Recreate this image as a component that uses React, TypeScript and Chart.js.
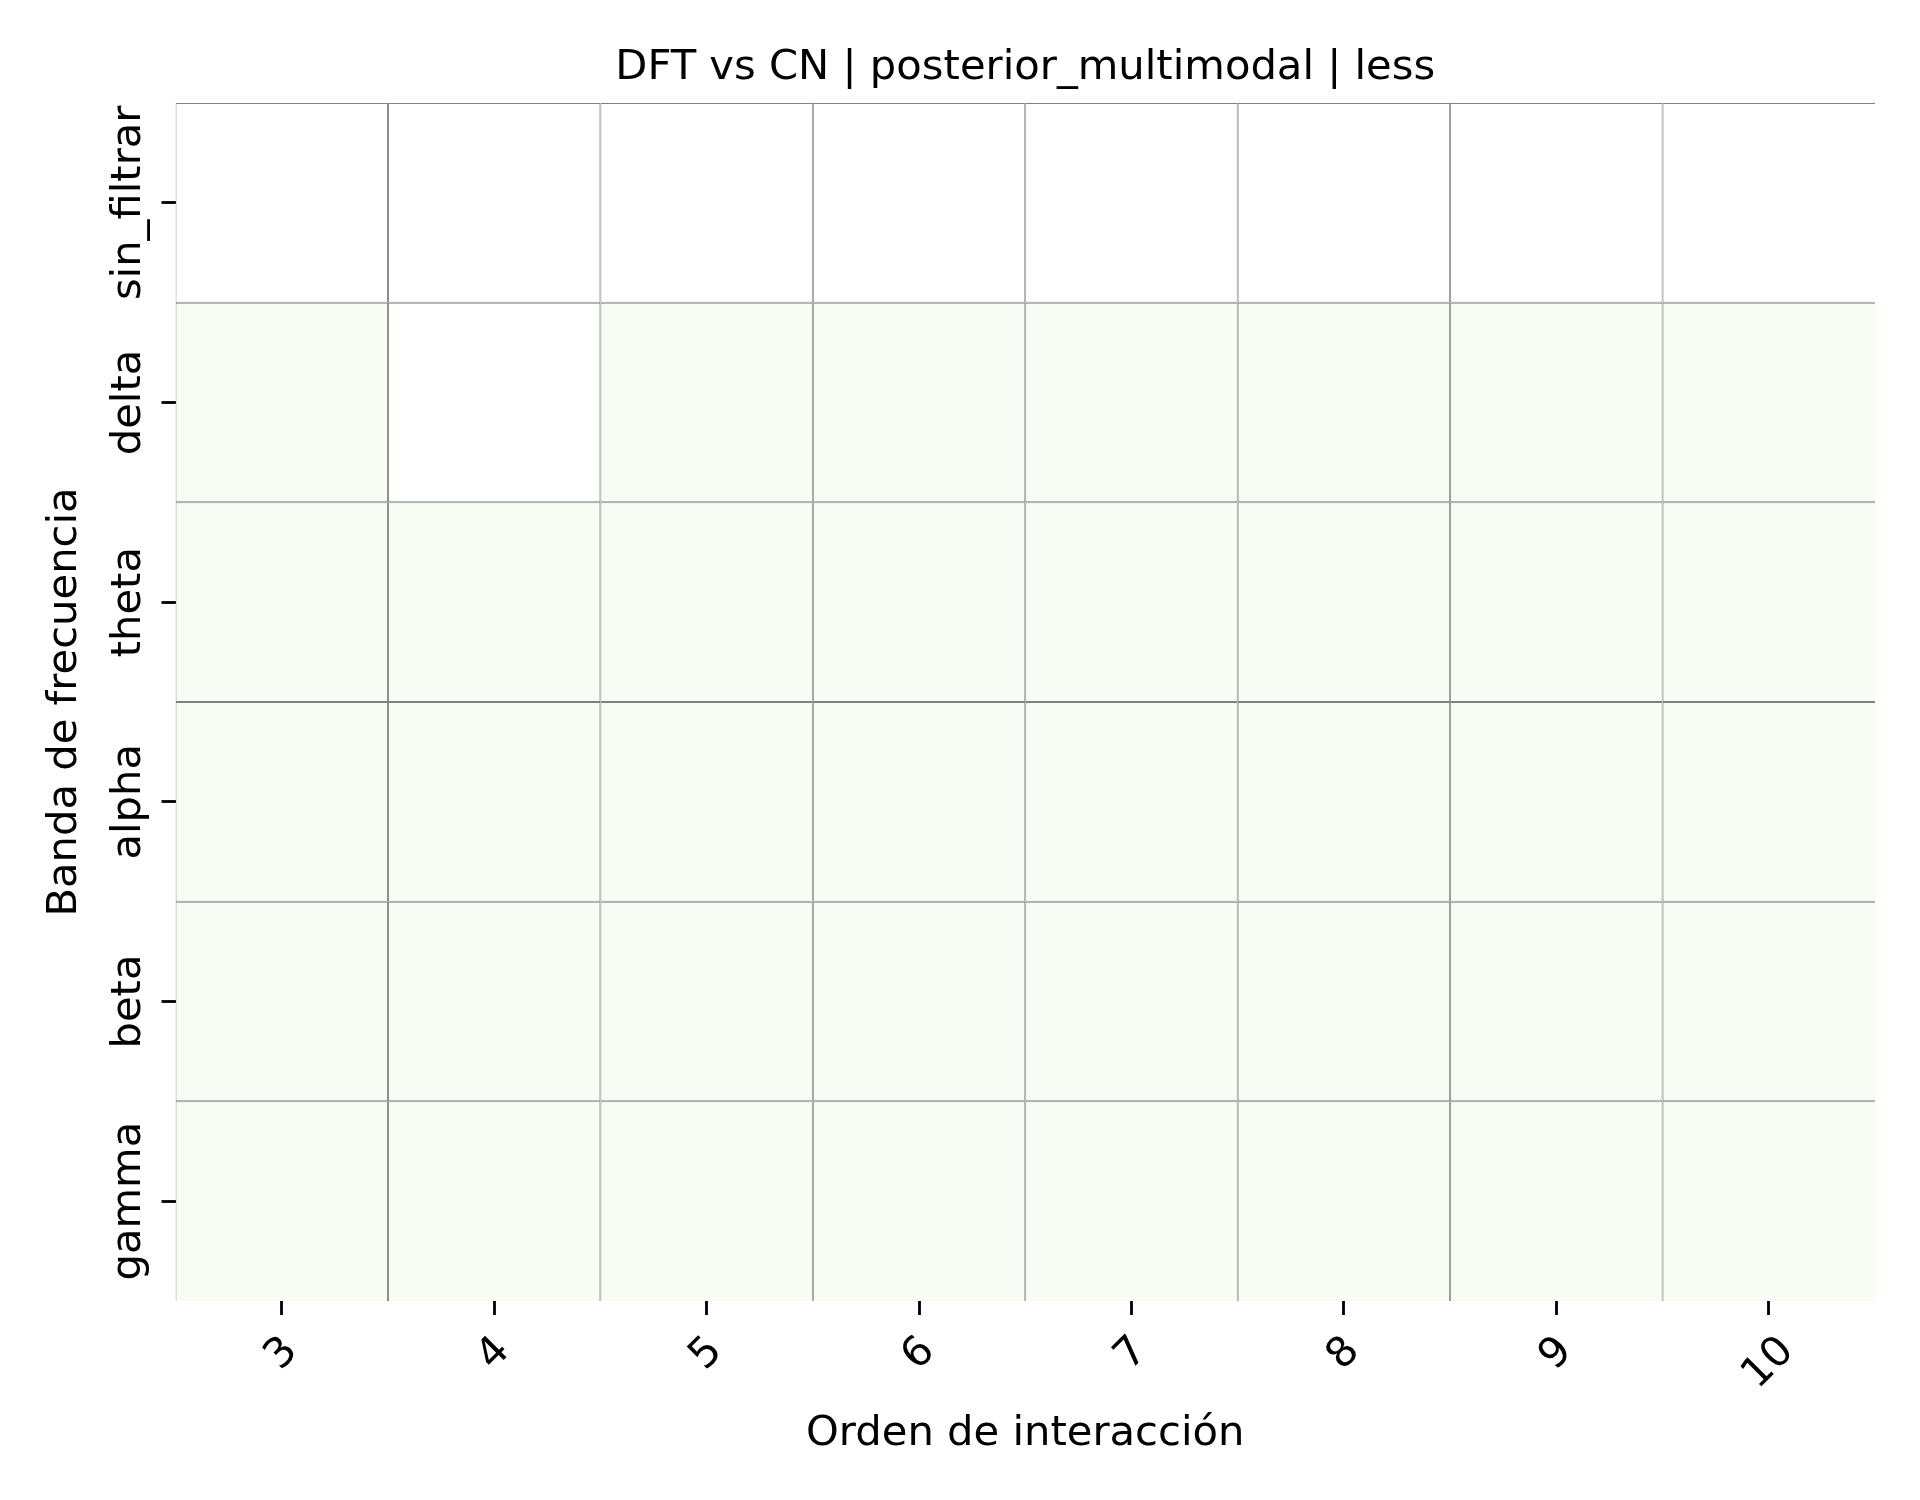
import { useEffect, useRef } from "react";
import { Chart, registerables } from "chart.js";

Chart.register(...registerables);

// Datos del heatmap
const ordenes = ["3", "4", "5", "6", "7", "8", "9", "10"];
const bandas = ["sin_filtrar", "delta", "theta", "alpha", "beta", "gamma"];

const sinFiltrar = [null, null, null, null, null, null, null, null];
const delta = [0, null, 0, 0, 0, 0, 0, 0];
const theta = [0, 0, 0, 0, 0, 0, 0, 0];
const alpha = [0, 0, 0, 0, 0, 0, 0, 0];
const beta = [0, 0, 0, 0, 0, 0, 0, 0];
const gamma = [0, 0, 0, 0, 0, 0, 0, 0];

const valores: (number | null)[][] = [sinFiltrar, delta, theta, alpha, beta, gamma];

const titulo = "DFT vs CN | posterior_multimodal | less";
const tituloX = "Orden de interacción";
const tituloY = "Banda de frecuencia";

const FS = 41.7;
const FUENTE = "DejaVu Sans";
const TICK = 14;

// Paleta Greens (matplotlib)
const greens = ["#f7fcf5", "#e5f5e0", "#c7e9c0", "#a1d99b", "#74c476", "#41ab5d", "#238b45", "#006d2c", "#00441b"];
const vmax = 1;

const colorCelda = (v: number | null) => {
  if (v === null) return "#ffffff";
  const t = Math.max(0, Math.min(1, v / vmax));
  return greens[Math.round(t * (greens.length - 1))];
};

// Etiquetas de ticks y título dibujados a mano (estilo matplotlib)
const textos = {
  id: "textos",
  afterDraw(chart: any) {
    const { ctx, chartArea, scales } = chart;
    const x = scales.x;
    const y = scales.y;
    ctx.save();
    ctx.fillStyle = "#000";
    ctx.font = `${FS}px "${FUENTE}"`;

    ctx.textAlign = "center";
    ctx.textBaseline = "alphabetic";
    ctx.fillText(titulo, (chartArea.left + chartArea.right) / 2, 79);

    // etiquetas del eje y, giradas 90°
    y.ticks.forEach((t: any, i: number) => {
      const py = y.getPixelForValue(t.value);
      ctx.save();
      ctx.translate(140, py);
      ctx.rotate(-Math.PI / 2);
      ctx.fillText(bandas[i], 0, 0);
      ctx.restore();
    });

    // etiquetas del eje x, giradas 45°
    ordenes.forEach((lab, i) => {
      const px = x.getPixelForTick(i);
      const w = ctx.measureText(lab).width;
      const h = 0.99 * FS;
      const cy = x.top + TICK + 15 + ((w + h) * Math.SQRT1_2) / 2;
      ctx.save();
      ctx.translate(px, cy);
      ctx.rotate(-Math.PI / 4);
      ctx.fillText(lab, 0, 0.265 * FS);
      ctx.restore();
    });
    ctx.restore();
  },
};

const Heatmap = () => {
  const chartRef = useRef<HTMLCanvasElement>(null);
  const chartInstance = useRef<Chart | null>(null);

  useEffect(() => {
    if (!chartRef.current) return;
    if (chartInstance.current) {
      chartInstance.current.destroy();
    }

    const ctx = chartRef.current.getContext("2d");
    if (!ctx) return;

    Chart.defaults.font.family = FUENTE;
    Chart.defaults.color = "#000";

    const datasets = bandas.map((banda, fila) => ({
      label: banda,
      data: ordenes.map(() => [fila - 0.5, fila + 0.5]),
      backgroundColor: valores[fila].map(colorCelda),
      borderColor: "#808080",
      borderWidth: (c: any) => ({
        top: 1,
        left: 1,
        right: c.dataIndex === ordenes.length - 1 ? 0 : 1,
        bottom: c.datasetIndex === bandas.length - 1 ? 0 : 1,
      }),
      borderSkipped: false,
      inflateAmount: 0,
      barPercentage: 1,
      categoryPercentage: 1,
      grouped: false,
    }));

    chartInstance.current = new Chart(ctx, {
      type: "bar",
      data: { labels: ordenes, datasets: datasets as any },
      options: {
        responsive: false,
        animation: false,
        devicePixelRatio: 1,
        layout: { padding: { top: 103, right: 45, left: 0, bottom: 0 } },
        plugins: {
          legend: { display: false },
          tooltip: { enabled: false },
          title: { display: false },
        },
        scales: {
          x: {
            type: "category",
            offset: true,
            border: { display: false },
            grid: {
              offset: false,
              drawOnChartArea: false,
              drawTicks: true,
              tickLength: TICK,
              tickWidth: 2.8,
              tickColor: "#000",
            },
            ticks: { display: false },
            title: {
              display: true,
              text: tituloX,
              font: { size: FS, family: FUENTE },
              padding: { top: 0, bottom: 41 },
            },
            afterFit: (s: any) => {
              s.height = 199;
            },
          },
          y: {
            type: "linear",
            reverse: true,
            min: -0.5,
            max: 5.5,
            border: { display: false },
            grid: {
              drawOnChartArea: false,
              drawTicks: true,
              tickLength: TICK,
              tickWidth: 2.8,
              tickColor: "#000",
            },
            ticks: { display: false },
            afterBuildTicks: (s: any) => {
              s.ticks = bandas.map((_, i) => ({ value: i }));
            },
            title: {
              display: true,
              text: tituloY,
              font: { size: FS, family: FUENTE },
              padding: { top: 40, bottom: 0 },
            },
            afterFit: (s: any) => {
              s.width = 175.5;
            },
          },
        },
      },
      plugins: [textos],
    });

    return () => {
      if (chartInstance.current) {
        chartInstance.current.destroy();
        chartInstance.current = null;
      }
    };
  }, []);

  return (
    <div style={{ position: "absolute", left: 0, top: 0, width: 1920, height: 1500, background: "#fff" }}>
      <canvas ref={chartRef} width={1920} height={1500} />
    </div>
  );
};

export default function App() {
  return <Heatmap />;
}
